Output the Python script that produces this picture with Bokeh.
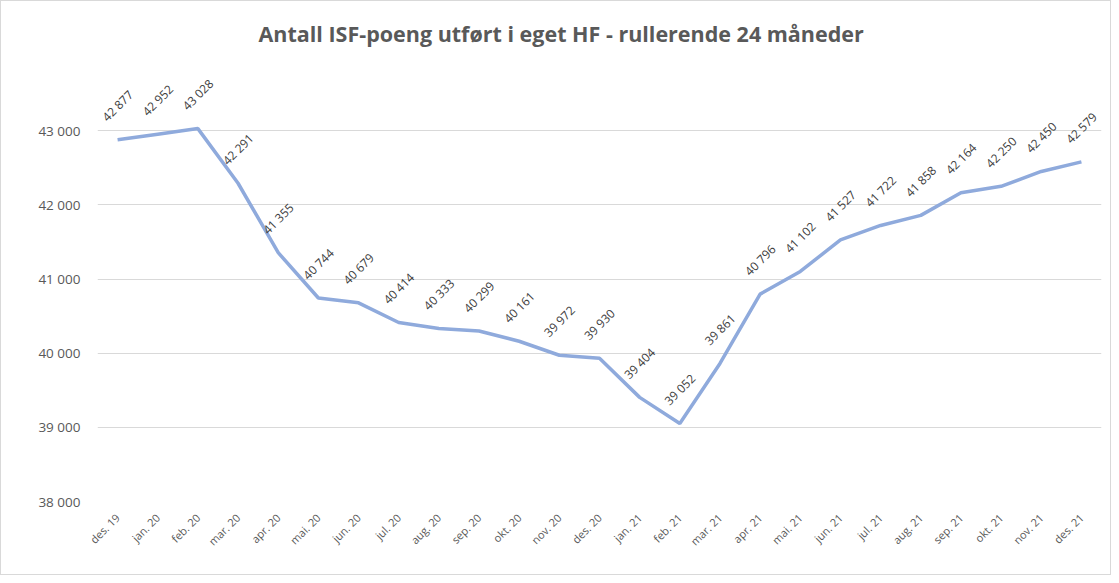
import math
from bokeh.plotting import figure
from bokeh.models import ColumnDataSource, FixedTicker, Range1d, FactorRange
from bokeh.core.properties import value
from bokeh.embed import file_html
from bokeh.resources import INLINE

months = ["des. 19", "jan. 20", "feb. 20", "mar. 20", "apr. 20", "mai. 20", "jun. 20",
          "jul. 20", "aug. 20", "sep. 20", "okt. 20", "nov. 20", "des. 20", "jan. 21",
          "feb. 21", "mar. 21", "apr. 21", "mai. 21", "jun. 21", "jul. 21", "aug. 21",
          "sep. 21", "okt. 21", "nov. 21", "des. 21"]
points = [42877, 42952, 43028, 42291, 41355, 40744, 40679, 40414, 40333, 40299, 40161,
          39972, 39930, 39404, 39052, 39861, 40796, 41102, 41527, 41722, 41858, 42164,
          42250, 42450, 42579]
y_ticks = [38000, 39000, 40000, 41000, 42000, 43000]

def fmt(v):
    return f"{v:,}".replace(",", " ")

src = ColumnDataSource(dict(x=months, y=points, lbl=[fmt(v) for v in points]))

p = figure(width=1111, height=575, x_range=FactorRange(*months, range_padding=0),
           y_range=Range1d(38000, 44000), output_backend="svg", toolbar_location=None,
           title="Antall ISF-poeng utført i eget HF - rullerende 24 måneder",
           min_border_left=96, min_border_right=11, min_border_top=55, min_border_bottom=75)
p.styles = {"border": "1px solid #d9d9d9"}
p.outline_line_color = None
p.background_fill_color = "white"
p.border_fill_color = "white"

p.title.align = "left"
p.title.offset = 161
p.title.text_font = "Open Sans"
p.title.text_font_size = "21.5px"
p.title.text_font_style = "bold"
p.title.text_color = "#595959"
p.title.standoff = 17

p.line("x", "y", source=src, line_color="#8FAADC", line_width=3.5)
p.text("x", "y", text="lbl", source=src, angle=math.pi / 4, text_align="center",
       text_baseline="middle", y_offset=-34, text_font=value("Open Sans"),
       text_font_size="12px", text_color="#404040")

p.yaxis.ticker = FixedTicker(ticks=y_ticks)
p.yaxis.major_label_overrides = {t: fmt(t) for t in y_ticks}
p.yaxis.major_label_text_font = "Open Sans"
p.yaxis.major_label_text_font_size = "13.5px"
p.yaxis.major_label_text_color = "#595959"
p.yaxis.axis_line_color = None
p.yaxis.major_tick_line_color = None
p.yaxis.minor_tick_line_color = None
p.yaxis.major_label_standoff = 11

p.xaxis.major_label_orientation = math.pi / 4
p.xaxis.major_label_text_font = "Open Sans"
p.xaxis.major_label_text_font_size = "11px"
p.xaxis.major_label_text_color = "#595959"
p.xaxis.axis_line_color = None
p.xaxis.major_tick_line_color = None
p.xaxis.major_label_standoff = 8

p.xgrid.grid_line_color = None
p.ygrid.grid_line_color = "#d9d9d9"
p.ygrid.grid_line_width = 1

open("out.html", "w").write(file_html(p, INLINE))
